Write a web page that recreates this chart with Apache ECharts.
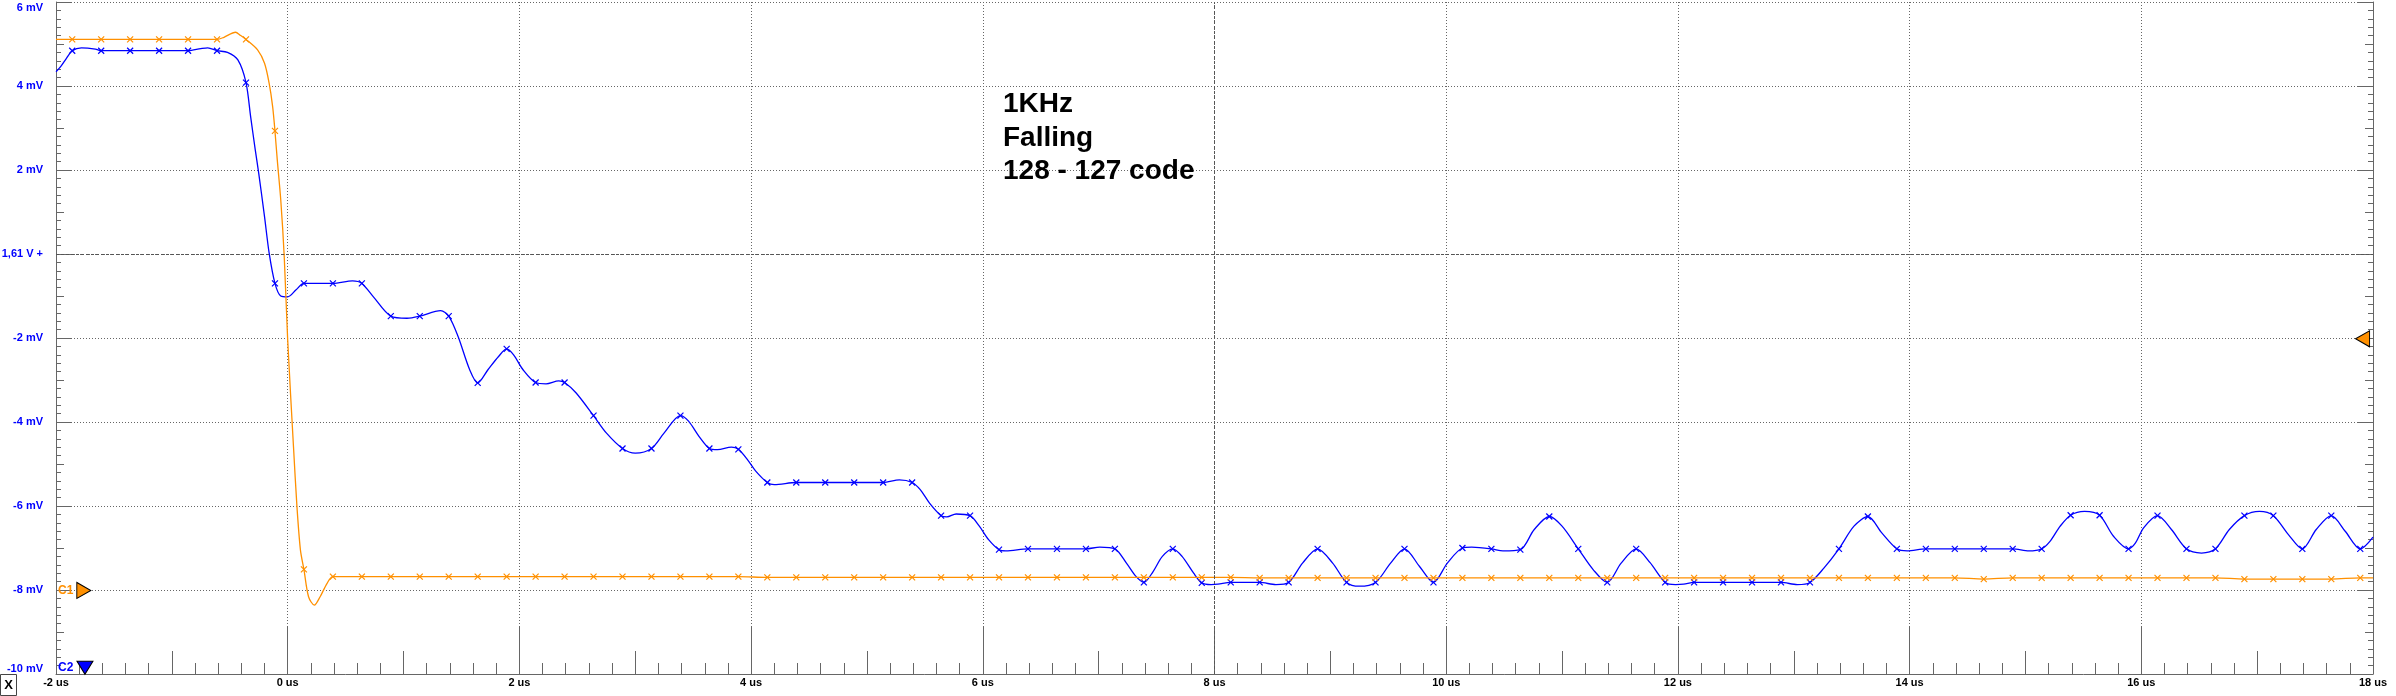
<!DOCTYPE html>
<html>
<head>
<meta charset="utf-8">
<style>
  html, body { margin: 0; padding: 0; background: #fff; }
  #main { width: 2396px; height: 696px; }
</style>
<script src="https://cdn.jsdelivr.net/npm/echarts@6/dist/echarts.min.js"></script>
</head>
<body>
<div id="main"></div>
<script>
// scope sample clock: a cross marker sits on every acquired sample
var sampleStart = -1.86;
var samplePeriod = 0.25;

var xTicks = [-2, 0, 2, 4, 6, 8, 10, 12, 14, 16, 18];      // us
var yTicks = [-10, -8, -6, -4, -2, 0, 2, 4, 6];            // mV
var zeroLabel = '1,61 V +';
var noteLines = ['1KHz', 'Falling', '128 - 127 code'];

// C1 (orange) trace, [time us, mV]
var c1Trace = [
  [-2.00, 5.11], [-1.86, 5.11], [-1.61, 5.11], [-1.36, 5.11], [-1.11, 5.11], [-0.86, 5.11], [-0.61, 5.11],
  [-0.55, 5.16], [-0.45, 5.28], [-0.41, 5.21], [-0.36, 5.11], [-0.26, 4.86], [-0.20, 4.54], [-0.16, 4.06],
  [-0.13, 3.51], [-0.11, 2.93], [-0.09, 2.24], [-0.06, 1.29], [-0.03, -0.06], [0.00, -2.05], [0.05, -4.59],
  [0.08, -6.02], [0.11, -7.05], [0.14, -7.51], [0.18, -8.16], [0.23, -8.36], [0.28, -8.16], [0.34, -7.84],
  [0.39, -7.68], [0.64, -7.68], [0.89, -7.68], [1.14, -7.68], [1.39, -7.68], [1.64, -7.68], [1.89, -7.68],
  [2.14, -7.68], [2.39, -7.68], [2.64, -7.68], [2.89, -7.68], [3.14, -7.68], [3.39, -7.68], [3.64, -7.68],
  [3.89, -7.68], [4.14, -7.70], [4.39, -7.70], [4.64, -7.70], [4.89, -7.70], [5.14, -7.70], [5.39, -7.70],
  [5.64, -7.70], [5.89, -7.70], [6.14, -7.70], [6.39, -7.70], [6.64, -7.70], [6.89, -7.70], [7.14, -7.70],
  [7.39, -7.70], [7.64, -7.70], [7.89, -7.70], [8.14, -7.70], [8.39, -7.71], [8.64, -7.71], [8.89, -7.71],
  [9.14, -7.71], [9.39, -7.71], [9.64, -7.71], [9.89, -7.71], [10.14, -7.71], [10.39, -7.71], [10.64, -7.71],
  [10.89, -7.71], [11.14, -7.71], [11.39, -7.71], [11.64, -7.71], [11.89, -7.71], [12.14, -7.71], [12.39, -7.71],
  [12.64, -7.71], [12.89, -7.71], [13.14, -7.71], [13.39, -7.71], [13.64, -7.71], [13.89, -7.71], [14.14, -7.71],
  [14.39, -7.71], [14.64, -7.74], [14.89, -7.71], [15.14, -7.71], [15.39, -7.71], [15.64, -7.71], [15.89, -7.71],
  [16.14, -7.71], [16.39, -7.71], [16.64, -7.71], [16.89, -7.74], [17.14, -7.74], [17.39, -7.74], [17.64, -7.74],
  [17.89, -7.71], [18.00, -7.71]
];

// C2 (blue) trace, [time us, mV]
var c2Trace = [
  [-2.00, 4.34], [-1.96, 4.46], [-1.91, 4.66], [-1.86, 4.84], [-1.78, 4.91], [-1.66, 4.88], [-1.61, 4.84],
  [-1.36, 4.84], [-1.11, 4.84], [-0.86, 4.84], [-0.75, 4.89], [-0.69, 4.91], [-0.61, 4.84], [-0.52, 4.80],
  [-0.43, 4.62], [-0.36, 4.08], [-0.32, 3.27], [-0.28, 2.48], [-0.25, 1.92], [-0.20, 0.89], [-0.16, 0.02],
  [-0.11, -0.70], [-0.06, -1.00], [0.00, -1.02], [0.07, -0.86], [0.14, -0.70], [0.39, -0.70], [0.56, -0.64],
  [0.64, -0.70], [0.74, -1.02], [0.89, -1.48], [1.03, -1.53], [1.14, -1.48], [1.32, -1.35], [1.39, -1.48],
  [1.47, -1.96], [1.57, -2.75], [1.64, -3.07], [1.73, -2.75], [1.82, -2.44], [1.89, -2.26], [1.95, -2.40],
  [2.03, -2.75], [2.14, -3.06], [2.23, -3.09], [2.34, -3.02], [2.39, -3.06], [2.49, -3.31], [2.64, -3.85],
  [2.75, -4.26], [2.89, -4.63], [3.00, -4.74], [3.14, -4.63], [3.25, -4.26], [3.39, -3.85], [3.46, -3.98],
  [3.55, -4.34], [3.64, -4.63], [3.71, -4.66], [3.83, -4.60], [3.89, -4.65], [3.97, -4.90], [4.04, -5.17],
  [4.14, -5.44], [4.20, -5.49], [4.39, -5.44], [4.64, -5.44], [4.89, -5.44], [5.14, -5.44], [5.28, -5.38],
  [5.39, -5.44], [5.46, -5.61], [5.54, -5.93], [5.64, -6.23], [5.69, -6.26], [5.77, -6.19], [5.89, -6.23],
  [5.97, -6.48], [6.05, -6.80], [6.14, -7.04], [6.20, -7.07], [6.39, -7.02], [6.64, -7.02], [6.89, -7.02],
  [7.01, -6.98], [7.14, -7.02], [7.24, -7.36], [7.32, -7.67], [7.39, -7.82], [7.47, -7.56], [7.55, -7.20],
  [7.64, -7.02], [7.72, -7.20], [7.82, -7.60], [7.89, -7.83], [7.97, -7.87], [8.03, -7.86], [8.14, -7.82],
  [8.39, -7.82], [8.53, -7.87], [8.64, -7.82], [8.76, -7.36], [8.89, -7.02], [9.02, -7.36], [9.14, -7.82],
  [9.25, -7.91], [9.39, -7.82], [9.52, -7.36], [9.64, -7.02], [9.77, -7.44], [9.89, -7.82], [10.01, -7.36],
  [10.14, -7.00], [10.22, -6.98], [10.39, -7.02], [10.49, -7.07], [10.64, -7.04], [10.76, -6.56], [10.89, -6.25],
  [11.00, -6.48], [11.14, -7.02], [11.27, -7.52], [11.39, -7.82], [11.51, -7.36], [11.64, -7.02], [11.76, -7.35],
  [11.89, -7.82], [11.98, -7.87], [12.05, -7.86], [12.14, -7.82], [12.39, -7.82], [12.64, -7.82], [12.89, -7.82],
  [13.03, -7.87], [13.14, -7.82], [13.26, -7.48], [13.39, -7.02], [13.52, -6.48], [13.64, -6.25], [13.76, -6.64],
  [13.89, -7.02], [13.98, -7.07], [14.14, -7.02], [14.39, -7.02], [14.64, -7.02], [14.89, -7.02], [15.03, -7.07],
  [15.14, -7.02], [15.21, -6.85], [15.30, -6.48], [15.39, -6.22], [15.51, -6.13], [15.64, -6.22], [15.76, -6.72],
  [15.89, -7.02], [15.95, -6.88], [16.02, -6.52], [16.14, -6.23], [16.26, -6.56], [16.39, -7.02], [16.52, -7.12],
  [16.64, -7.02], [16.76, -6.56], [16.89, -6.23], [17.02, -6.13], [17.14, -6.23], [17.27, -6.68], [17.39, -7.02],
  [17.51, -6.56], [17.64, -6.23], [17.76, -6.60], [17.89, -7.02], [18.00, -6.74]
];

// channel reference markers [time us, mV]
var c1Ref = [-1.76, -8.01];
var c1Trig = [17.91, -2.02];
var c2Ref = [-1.75, -9.85];

var ORANGE = '#ff9000';
var BLUE = '#0000ff';
var GRID = '#666666';
var crossPath = 'path://M0,0L10,10M10,0L0,10';

function isSample(t) {
  var k = (t - sampleStart) / samplePeriod;
  return Math.abs(k - Math.round(k)) < 0.02;
}

var chartDom = document.getElementById('main');
var myChart = echarts.init(chartDom, null, { renderer: 'canvas' });
var option;

var tickStyle = { color: GRID, width: 1 };

function xAxisBase(interval, tickLen) {
  return {
    type: 'value', min: xTicks[0], max: xTicks[xTicks.length - 1], interval: interval,
    position: 'bottom',
    axisLine: { show: false, onZero: false },
    axisTick: { show: true, inside: true, length: tickLen, lineStyle: tickStyle },
    axisLabel: { show: false },
    splitLine: { show: false }
  };
}
function yAxisBase(pos, interval, tickLen) {
  return {
    type: 'value', min: yTicks[0], max: yTicks[yTicks.length - 1], interval: interval,
    position: pos,
    axisLine: { show: false, onZero: false },
    axisTick: { show: true, inside: true, length: tickLen, lineStyle: tickStyle },
    axisLabel: { show: false },
    splitLine: { show: false }
  };
}

var xMain = xAxisBase(2, 47);
xMain.axisLine = { show: true, onZero: false, lineStyle: { color: GRID, width: 1 } };
xMain.minorTick = { show: true, splitNumber: 10, length: 11, lineStyle: tickStyle };
xMain.axisLabel = {
  show: true, margin: 3, formatter: '{value} us',
  color: '#000', fontSize: 11, fontWeight: 'bold', fontFamily: 'Liberation Sans'
};
xMain.splitLine = { show: true, lineStyle: { color: GRID, width: 1, type: [1, 2] } };

var yMain = yAxisBase('left', 2, 16);
yMain.axisLine = { show: true, onZero: false, lineStyle: { color: GRID, width: 1 } };
yMain.minorTick = { show: true, splitNumber: 10, length: 5, lineStyle: tickStyle };
yMain.axisLabel = {
  show: true, margin: 13,
  formatter: function (v) { return v === 0 ? zeroLabel : v + ' mV'; },
  color: BLUE, fontSize: 11, fontWeight: 'bold', fontFamily: 'Liberation Sans',
  verticalAlignMaxLabel: 'top', verticalAlignMinLabel: 'bottom'
};
yMain.splitLine = { show: true, lineStyle: { color: GRID, width: 1, type: [1, 2] } };

var yRight = yAxisBase('right', 2, 16);
yRight.axisLine = { show: true, onZero: false, lineStyle: { color: GRID, width: 1 } };
yRight.minorTick = { show: true, splitNumber: 10, length: 5, lineStyle: tickStyle };

function refMark(coord, rotate, size, color, text) {
  return {
    coord: coord, symbol: 'triangle', symbolRotate: rotate, symbolSize: size,
    itemStyle: { color: color, borderColor: '#000', borderWidth: 1 },
    label: {
      show: !!text, formatter: text || '', position: 'left', distance: 3,
      color: color, fontSize: 12, fontWeight: 'bold', fontFamily: 'Liberation Sans'
    }
  };
}

option = {
  animation: false,
  backgroundColor: '#fff',
  grid: { left: 56, right: 23, top: 2, bottom: 22, containLabel: false, outerBoundsMode: 'none' },
  title: {
    text: noteLines.join('\n'),
    left: 1003, top: 88, padding: 0,
    textStyle: { fontSize: 28, lineHeight: 33.5, fontWeight: 'bold', color: '#000', fontFamily: 'Liberation Sans' }
  },
  xAxis: [xMain, xAxisBase(1, 23)],
  yAxis: [yMain, yAxisBase('left', 1, 8), yRight, yAxisBase('right', 1, 8)],
  graphic: [
    {
      type: 'group', left: 0, bottom: 0,
      children: [
        { type: 'rect', shape: { x: 0, y: 0, width: 16, height: 21 }, style: { fill: '#fff', stroke: '#444', lineWidth: 1 } },
        { type: 'text', x: 8, y: 11, style: { text: 'X', fill: '#000', font: 'bold 13px "Liberation Sans"', align: 'center', verticalAlign: 'middle' } }
      ]
    }
  ],
  series: [
    {
      name: 'C2', type: 'line', xAxisIndex: 0, yAxisIndex: 0,
      data: c2Trace, smooth: 0.3, silent: true, z: 3,
      showAllSymbol: true,
      symbol: function (v) { return isSample(v[0]) ? crossPath : 'none'; },
      symbolSize: 6,
      lineStyle: { color: BLUE, width: 1.3 },
      itemStyle: { color: BLUE, borderColor: BLUE, borderWidth: 1.2 },
      markLine: {
        silent: true, symbol: 'none', label: { show: false },
        lineStyle: { color: '#555', width: 1, type: [3, 2] },
        data: [{ xAxis: 8 }, { yAxis: 0 }]
      },
      markPoint: {
        silent: true,
        data: [refMark(c2Ref, 180, [16, 13], BLUE, 'C2')]
      }
    },
    {
      name: 'C1', type: 'line', xAxisIndex: 0, yAxisIndex: 0,
      data: c1Trace, smooth: 0.3, silent: true, z: 4,
      showAllSymbol: true,
      symbol: function (v) { return isSample(v[0]) ? crossPath : 'none'; },
      symbolSize: 6,
      lineStyle: { color: ORANGE, width: 1.3 },
      itemStyle: { color: ORANGE, borderColor: ORANGE, borderWidth: 1.2 },
      markPoint: {
        silent: true,
        data: [
          refMark(c1Ref, -90, [16, 14], ORANGE, 'C1'),
          refMark(c1Trig, 90, [16, 14], ORANGE, '')
        ]
      }
    }
  ]
};

option && myChart.setOption(option);
</script>
</body>
</html>
